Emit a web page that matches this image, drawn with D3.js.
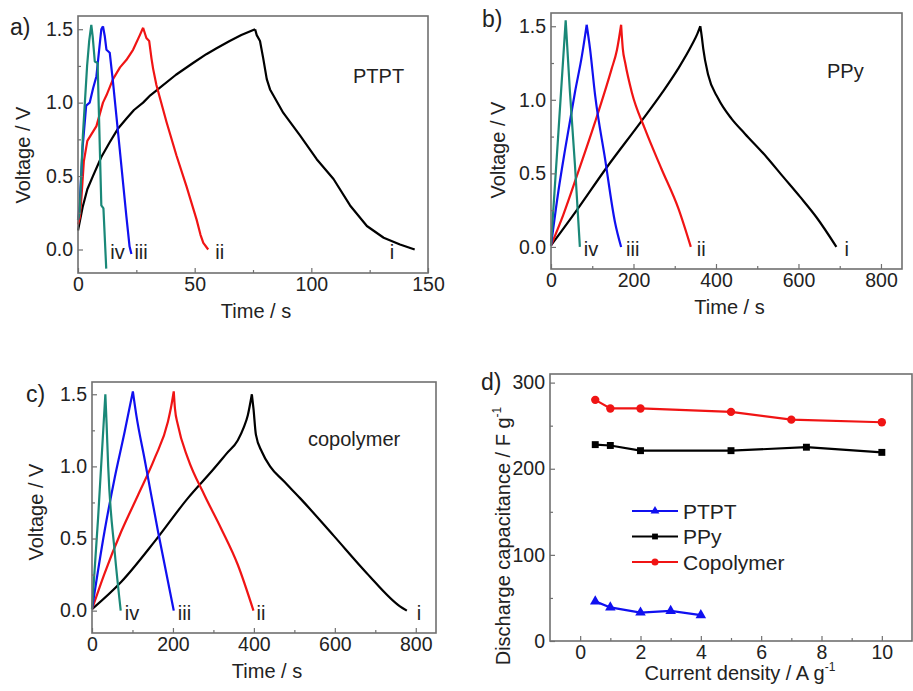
<!DOCTYPE html>
<html>
<head>
<meta charset="utf-8">
<script src="https://cdn.jsdelivr.net/npm/d3@7"></script>
<style>
  body { margin: 0; background: #fff; }
  text { font-family: "Liberation Sans", Arial, sans-serif; fill: #222; }
</style>
</head>
<body>
<svg id="fig" width="913" height="691"></svg>
<script>
// ---- data: [time (s), voltage (V)] ----
var curveNames = ["i", "ii", "iii", "iv"];

var ptpt_i = [[0,0.13],[2,0.29],[4,0.41],[6.4,0.5],[10,0.63],[13.6,0.73],[17,0.82],[20.7,0.89],[24,0.95],[27.9,1.0],[31,1.05],[35,1.1],[42,1.19],[49.3,1.27],[55,1.33],[59.4,1.37],[65,1.42],[70,1.46],[75.9,1.5],[76.6,1.46],[78,1.42],[79.4,1.3],[80.9,1.16],[82.3,1.09],[88,0.93],[95.2,0.775],[102.3,0.615],[109.5,0.48],[116.6,0.3],[123.8,0.16],[131,0.08],[138,0.034],[144.3,0]];
var ptpt_ii = [[0,0.17],[0.8,0.22],[1.5,0.36],[2.5,0.6],[4,0.74],[7.9,0.84],[10.7,1.0],[12.2,1.05],[15,1.16],[18,1.24],[20.7,1.29],[23.6,1.36],[26.5,1.46],[27.9,1.51],[29.3,1.44],[30.5,1.42],[31.5,1.3],[32.2,1.23],[33.6,1.12],[37.9,0.87],[42.2,0.64],[46.5,0.43],[50.8,0.205],[52.5,0.1],[53.7,0.045],[55.8,0]];
var ptpt_iii = [[0,0.2],[0.7,0.3],[2,0.7],[3.5,0.98],[5,1.0],[6.5,1.1],[7.9,1.18],[9,1.35],[10,1.5],[10.7,1.52],[11.5,1.45],[12.2,1.36],[13.6,1.34],[15,1.14],[17.9,0.68],[20.7,0.23],[22.1,0.02],[22.9,-0.03]];
var ptpt_iv = [[0,0.2],[0.7,0.25],[2.1,0.78],[3.9,1.25],[4.8,1.42],[5.7,1.53],[6.3,1.45],[7.2,1.28],[8.4,1.27],[10,0.3],[10.9,0.28],[12.1,-0.13]];

var ppy_i = [[0,0.01],[60,0.24],[135,0.54],[218,0.85],[270,1.05],[308,1.21],[341,1.37],[355,1.45],[362,1.5],[366,1.42],[369,1.35],[381,1.17],[405,1.01],[438,0.87],[470,0.77],[523,0.61],[563,0.476],[604,0.34],[644,0.2],[692,0]];
var ppy_ii = [[0,0.01],[30,0.22],[66,0.51],[107,0.85],[147,1.21],[160,1.34],[170,1.51],[174,1.35],[180,1.25],[196,1.05],[228,0.8],[268,0.53],[309,0.26],[339,0]];
var ppy_iii = [[0,0.01],[18,0.38],[34,0.66],[58,1.05],[75,1.3],[86.5,1.51],[94.5,1.35],[107,1.03],[131,0.6],[155,0.17],[170,0]];
var ppy_iv = [[0,0.01],[18,0.78],[35.6,1.54],[46,1.05],[58,0.56],[70,0]];

var copo_i = [[0,0.01],[72.5,0.2],[155,0.48],[237,0.78],[300,0.98],[333,1.09],[360,1.18],[375,1.27],[385,1.355],[395,1.5],[399,1.4],[405,1.22],[420,1.1],[440,1.0],[473,0.9],[514,0.78],[597,0.52],[679,0.26],[761,0.03],[778,0]];
var copo_ii = [[0,0.01],[30,0.25],[72.5,0.55],[113.6,0.8],[154.7,1.055],[187.6,1.31],[196,1.42],[202,1.52],[205,1.4],[212,1.29],[237,1.055],[278,0.8],[319,0.57],[360,0.32],[399,0]];
var copo_iii = [[0,0.01],[31,0.55],[56,0.92],[80.7,1.24],[101,1.52],[109.5,1.355],[130,1.05],[163,0.55],[202,0]];
var copo_iv = [[0,0.01],[15,0.64],[33,1.5],[36,1.3],[40,1.0],[56,0.41],[71,0]];

// panel d: discharge capacitance vs current density
var ptptDensity = [0.5, 1, 2, 3, 4];
var ptptCap = [46, 39, 33, 35, 30];
var ppyDensity = [0.5, 1, 2, 5, 7.5, 10];
var ppyCap = [228, 227, 221, 221, 225, 219];
var copoDensity = [0.5, 1, 2, 5, 7, 10];
var copoCap = [280, 270, 270, 266, 257, 254];

var voltTicks = [0, 0.5, 1.0, 1.5];
var voltMinor = [0.25, 0.75, 1.25];

// ---- drawing ----
var svg = d3.select("#fig");
var curveColors = ["#000000", "#f01414", "#1010f0", "#1a8878"];
var frameColor = "#707070";

function axes(g, x, y, w, h, xt, xm, yt, ym, yfmt) {
  g.append("g").attr("transform", "translate(0," + h + ")")
    .call(d3.axisBottom(x).tickValues(xm).tickSize(-3).tickFormat(""));
  g.append("g").attr("transform", "translate(0," + h + ")")
    .call(d3.axisBottom(x).tickValues(xt).tickSize(-5).tickPadding(4));
  g.append("g")
    .call(d3.axisLeft(y).tickValues(ym).tickSize(-3).tickFormat(""));
  g.append("g")
    .call(d3.axisLeft(y).tickValues(yt).tickSize(-5).tickPadding(5).tickFormat(yfmt));
  g.selectAll(".domain").remove();
  g.selectAll(".tick line").attr("stroke", frameColor).attr("stroke-width", 1.2);
  g.selectAll(".tick text").style("font-size", "19.5px").attr("fill", "#222");
  g.append("rect").attr("width", w).attr("height", h)
    .attr("fill", "none").attr("stroke", frameColor).attr("stroke-width", 1.6);
}

function gcdPanel(p) {
  var w = p.x1 - p.x0, h = p.y1 - p.y0;
  var g = svg.append("g").attr("transform", "translate(" + p.x0 + "," + p.y0 + ")");
  var x = d3.scaleLinear().domain(p.xdom).range([0, w]);
  var y = d3.scaleLinear().domain(p.ydom).range([h, 0]);
  var line = d3.line().x(d => x(d[0])).y(d => y(d[1])).curve(p.curve);

  // charge and discharge branches are smoothed separately so the peak stays sharp
  p.curves.forEach(function (c, i) {
    var k = d3.maxIndex(c, d => d[1]);
    var dstr = line(c.slice(0, k + 1)) + line(c.slice(k));
    g.append("path").attr("d", dstr)
      .attr("fill", "none").attr("stroke", curveColors[i])
      .attr("stroke-width", 2.2).attr("stroke-linejoin", "round");
  });
  p.curves.forEach(function (c, i) {
    var last = c[c.length - 1];
    g.append("text").attr("x", x(last[0]) + p.labelDx[i]).attr("y", y(0) + 9)
      .style("font-size", "20px").text(curveNames[i]);
  });
  axes(g, x, y, w, h, p.xt, p.xm, voltTicks, voltMinor, d3.format(".1f"));

  g.append("text").attr("x", p.name[1] - p.x0).attr("y", p.name[2] - p.y0)
    .style("font-size", "20px").text(p.name[0]);
  g.append("text").attr("x", w / 2 + 3).attr("y", h + 45).attr("text-anchor", "middle")
    .style("font-size", "20px").text("Time / s");
  g.append("text").attr("transform", "translate(" + p.ylab[0] + "," + p.ylab[1] + ") rotate(-90)")
    .attr("text-anchor", "middle").style("font-size", "20px").text("Voltage / V");
  svg.append("text").attr("x", p.tag[1]).attr("y", p.tag[2])
    .style("font-size", "23px").text(p.tag[0]);
}

gcdPanel({
  x0: 78, x1: 428, y0: 16, y1: 273, xdom: [0, 150], ydom: [-0.16, 1.59],
  xt: [0, 50, 100, 150], xm: [25, 75, 125], curve: d3.curveLinear,
  curves: [ptpt_i, ptpt_ii, ptpt_iii, ptpt_iv], labelDx: [-25, 7, 3, 4],
  name: ["PTPT", 353, 83], ylab: [-48, 139], tag: ["a)", 10, 35]
});
gcdPanel({
  x0: 551, x1: 902, y0: 13, y1: 269, xdom: [0, 851], ydom: [-0.15, 1.59],
  xt: [0, 200, 400, 600, 800], xm: [100, 300, 500, 700], curve: d3.curveMonotoneX,
  curves: [ppy_i, ppy_ii, ppy_iii, ppy_iv], labelDx: [8, 6, 5, 4],
  name: ["PPy", 827, 78], ylab: [-46, 137], tag: ["b)", 482, 27]
});
gcdPanel({
  x0: 92, x1: 436, y0: 382, y1: 633, xdom: [0, 850], ydom: [-0.155, 1.585],
  xt: [0, 200, 400, 600, 800], xm: [100, 300, 500, 700], curve: d3.curveMonotoneX,
  curves: [copo_i, copo_ii, copo_iii, copo_iv], labelDx: [10, 3, 4, 4],
  name: ["copolymer", 308, 446], ylab: [-49, 130], tag: ["c)", 26, 402]
});

// ---- panel d ----
(function () {
  var x0 = 550, x1 = 912, y0 = 374, y1 = 641;
  var w = x1 - x0, h = y1 - y0;
  var g = svg.append("g").attr("transform", "translate(" + x0 + "," + y0 + ")");
  var x = d3.scaleLinear().domain([-1, 11]).range([0, w]);
  var y = d3.scaleLinear().domain([0, 310]).range([h, 0]);
  axes(g, x, y, w, h, [0, 2, 4, 6, 8, 10], [1, 3, 5, 7, 9], [0, 100, 200, 300], [50, 150, 250], d3.format("d"));

  var series = [
    {name: "PTPT", xs: ptptDensity, ys: ptptCap, color: "#1010f0", sym: d3.symbolTriangle, size: 48},
    {name: "PPy", xs: ppyDensity, ys: ppyCap, color: "#000000", sym: d3.symbolSquare, size: 48},
    {name: "Copolymer", xs: copoDensity, ys: copoCap, color: "#f01414", sym: d3.symbolCircle, size: 55}
  ];
  var line = d3.line().x(d => x(d[0])).y(d => y(d[1]));
  series.forEach(function (s, k) {
    var pts = s.xs.map((v, i) => [v, s.ys[i]]);
    g.append("path").datum(pts).attr("d", line).attr("fill", "none")
      .attr("stroke", s.color).attr("stroke-width", 2.2);
    g.selectAll(null).data(pts).join("path")
      .attr("transform", d => "translate(" + x(d[0]) + "," + y(d[1]) + ")")
      .attr("d", d3.symbol(s.sym, s.size)).attr("fill", s.color);
    // legend
    var ly = 137 + k * 25.5;
    g.append("line").attr("x1", 82).attr("x2", 128).attr("y1", ly).attr("y2", ly)
      .attr("stroke", s.color).attr("stroke-width", 2.2);
    g.append("path").attr("transform", "translate(105," + ly + ")")
      .attr("d", d3.symbol(s.sym, s.size * 0.7)).attr("fill", s.color);
    g.append("text").attr("x", 133).attr("y", ly + 7.5).style("font-size", "21px").text(s.name);
  });

  var xl = g.append("text").attr("x", 190).attr("y", h + 39).attr("text-anchor", "middle")
    .style("font-size", "20px");
  xl.append("tspan").text("Current density / A g");
  xl.append("tspan").attr("dy", -9).style("font-size", "12px").text("-1");

  var yl = g.append("text").attr("transform", "translate(-40," + (162) + ") rotate(-90)")
    .attr("text-anchor", "middle").style("font-size", "20px");
  yl.append("tspan").text("Discharge capacitance / F g");
  yl.append("tspan").attr("dy", -9).style("font-size", "12px").text("-1");

  svg.append("text").attr("x", 481).attr("y", 390).style("font-size", "23px").text("d)");
})();
</script>
</body>
</html>
